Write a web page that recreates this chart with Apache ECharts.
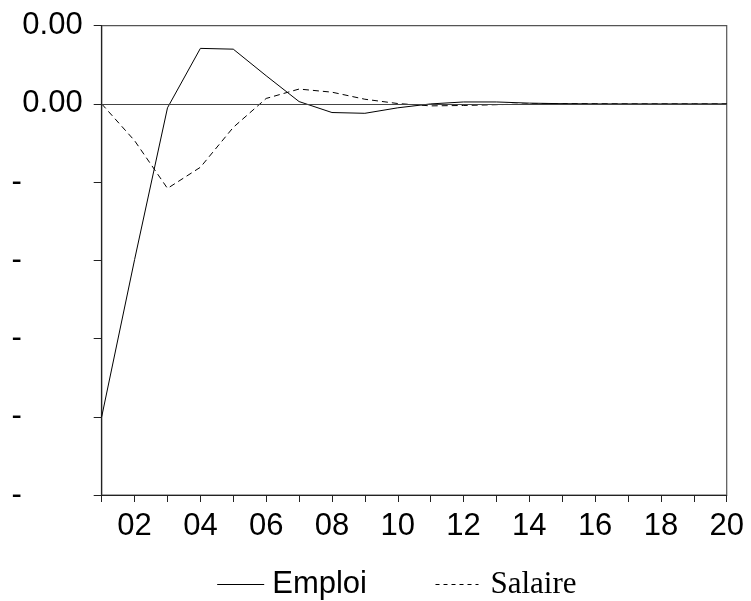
<!DOCTYPE html>
<html>
<head>
<meta charset="utf-8">
<script src="https://cdn.jsdelivr.net/npm/echarts@6/dist/echarts.min.js"></script>
<style>
html,body{margin:0;padding:0;background:#fff;}
#chart{width:751px;height:601px;}
</style>
</head>
<body>
<div id="chart"></div>
<script>
// Periods (horizon)
const periods = [1,2,3,4,5,6,7,8,9,10,11,12,13,14,15,16,17,18,19,20];
// Impulse responses
const emploi  = [-0.00400,-0.00199,-0.00005,0.00071,0.00070,0.00036,0.00003,-0.00011,-0.00012,-0.00005,0.00000,0.000025,0.000025,0.00001,0.000003,0,0,0,0,0];
const salaire = [0,-0.00047,-0.00108,-0.00081,-0.00030,0.00007,0.00019,0.00015,0.00006,0.000005,-0.000025,-0.00002,-0.00001,0,0.000003,0.000002,0,0,0,0];
// Tick labels
const xTickLabels = ['','02','','04','','06','','08','','10','','12','','14','','16','','18','','20'];
const yTickValues = [-0.005,-0.004,-0.003,-0.002,-0.001,0,0.001];
const yTickLabels = ['-','-','-','-','-','0.00','0.00'];
const seriesNames = ['Emploi','Salaire'];

const chart = echarts.init(document.getElementById('chart'), null, {renderer:'canvas'});
const sans = 'Liberation Sans';
const serif = 'Liberation Serif';
const noSymbol = {color: 'rgba(0,0,0,0)', borderColor: 'rgba(0,0,0,0)', borderWidth: 0, opacity: 0};

const option = {
  animation: false,
  backgroundColor: '#fff',
  grid: {left: 101.7, right: 24.3, top: 25.7, bottom: 106, show: true, borderColor: '#555', borderWidth: 1.2, backgroundColor: 'transparent'},
  xAxis: {
    type: 'value', min: 1, max: 20, interval: 1,
    axisLine: {show: true, onZero: false, lineStyle: {color: '#222', width: 1.2}},
    axisTick: {show: true, inside: false, length: 7, lineStyle: {color: '#222', width: 1}},
    splitLine: {show: false},
    axisLabel: {
      margin: 16, color: '#000', fontFamily: sans, fontSize: 31,
      formatter: v => xTickLabels[Math.round(v) - 1] || ''
    }
  },
  yAxis: {
    type: 'value', min: -0.005, max: 0.001, interval: 0.001,
    axisLine: {show: true, onZero: false, lineStyle: {color: '#222', width: 1.2}},
    axisTick: {show: true, inside: false, length: 8, lineStyle: {color: '#222', width: 1}},
    splitLine: {show: false},
    axisLabel: {
      margin: 19, color: '#000', fontFamily: sans, fontSize: 31,
      formatter: v => {
        let idx = -1;
        yTickValues.forEach((t, i) => { if (Math.abs(t - v) < 1e-9) idx = i; });
        const s = idx >= 0 ? yTickLabels[idx] : '';
        return s === '-' ? '{h|-}' : s;
      },
      rich: {h: {fontFamily: sans, fontSize: 31, color: '#000', padding: [0, 61, 0, 0]}}
    }
  },
  legend: [
    {
      data: [seriesNames[0]], left: 216.7, top: 569, padding: 0,
      itemWidth: 47, itemHeight: 14,
      itemStyle: noSymbol,
      lineStyle: {color: '#000', width: 1, type: 'solid'},
      textStyle: {fontFamily: sans, fontSize: 31, color: '#000', padding: [0, 0, 0, 3]}
    },
    {
      data: [seriesNames[1]], left: 435, top: 569, padding: 0,
      itemWidth: 43, itemHeight: 14,
      itemStyle: noSymbol,
      lineStyle: {color: '#000', type: [4, 4], width: 1},
      textStyle: {fontFamily: serif, fontSize: 31, color: '#000', padding: [0, 0, 0, 7]}
    }
  ],
  series: [
    {
      name: seriesNames[0], type: 'line', symbol: 'none', showSymbol: false,
      data: periods.map((p, i) => [p, emploi[i]]),
      lineStyle: {color: '#000', width: 1, type: 'solid'},
      itemStyle: {color: '#000'},
      markLine: {
        silent: true, symbol: 'none', label: {show: false},
        lineStyle: {color: '#444', width: 1.2, type: 'solid'},
        data: [{yAxis: 0}]
      },
      z: 3
    },
    {
      name: seriesNames[1], type: 'line', symbol: 'none', showSymbol: false,
      data: periods.map((p, i) => [p, salaire[i]]),
      lineStyle: {color: '#000', width: 1, type: [6, 4]},
      itemStyle: {color: '#000'},
      z: 3
    }
  ]
};
chart.setOption(option);
</script>
</body>
</html>
